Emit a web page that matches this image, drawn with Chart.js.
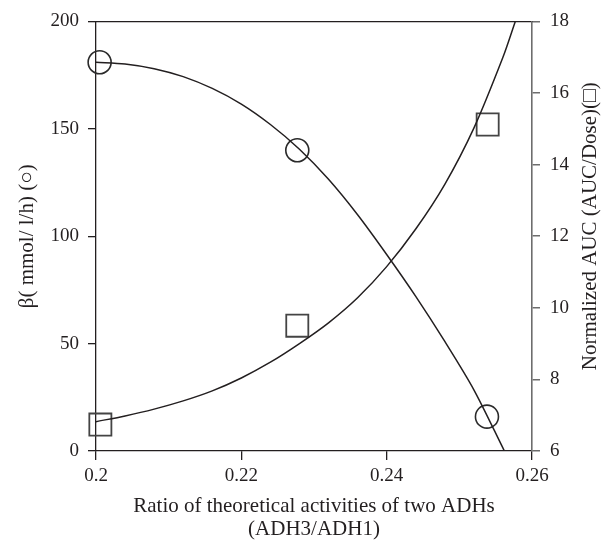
<!DOCTYPE html>
<html>
<head>
<meta charset="utf-8">
<script src="https://cdn.jsdelivr.net/npm/chart.js@4/dist/chart.umd.min.js"></script>
<style>
  html, body { margin: 0; padding: 0; background: #ffffff; }
  #wrap { width: 609px; height: 541px; position: relative; }
</style>
</head>
<body>
<div id="wrap"><canvas id="c" width="609" height="541"></canvas></div>
<script>
// ---- data ----
const xTickLabels = ['0.2', '0.22', '0.24', '0.26'];
const leftTickLabels = ['0', '50', '100', '150', '200'];
const rightTickLabels = ['6', '8', '10', '12', '14', '16', '18'];

// measured points (circles: beta, left axis; squares: normalized AUC, right axis)
const betaX = [0.2005, 0.2277, 0.2538];
const betaValues = [181, 140, 16];
const aucX = [0.2006, 0.2277, 0.2539];
const aucValues = [6.74, 9.5, 15.12];

// fitted curves
const betaFitX = [0.200, 0.204, 0.208, 0.212, 0.216, 0.220, 0.224, 0.228, 0.232, 0.236, 0.240, 0.244, 0.248, 0.252, 0.2562];
const betaFitY = [181, 180.2, 178, 174.3, 168.8, 161.5, 152, 140.5, 126.5, 110, 91.5, 72, 51, 28.5, 0];
const aucFitX = [0.200, 0.204, 0.208, 0.212, 0.216, 0.220, 0.224, 0.228, 0.232, 0.236, 0.240, 0.244, 0.248, 0.252, 0.256, 0.2577];
const aucFitY = [6.82, 6.98, 7.17, 7.40, 7.68, 8.04, 8.48, 9.00, 9.58, 10.28, 11.15, 12.2, 13.45, 15.02, 17.0, 18];

const xTitle = ['Ratio of theoretical activities of two ADHs', '(ADH3/ADH1)'];
const leftTitle = 'β( mmol/ l/h) (○)';
const rightTitle = 'Normalized AUC (AUC/Dose)(□)';

// ---- build ----
const toPts = (xs, ys) => xs.map((x, i) => ({ x: x, y: ys[i] }));
const ink = '#231f20';
const fontFam = '"Liberation Serif", "DejaVu Serif", serif';

// right-axis title reading bottom-to-top, like the reference
const rightTitlePlugin = {
  id: 'rightTitle',
  afterDraw(chart) {
    const c = chart.ctx;
    const a = chart.chartArea;
    c.save();
    c.translate(590, (a.top + a.bottom) / 2 - 10);
    c.rotate(-Math.PI / 2);
    c.font = '21px ' + fontFam;
    c.fillStyle = ink;
    c.textAlign = 'center';
    c.textBaseline = 'middle';
    c.fillText(rightTitle, 0, 0);
    c.restore();
  }
};

const ctx = document.getElementById('c').getContext('2d');
new Chart(ctx, {
  type: 'line',
  plugins: [rightTitlePlugin],
  data: {
    datasets: [
      {
        data: toPts(betaFitX, betaFitY), yAxisID: 'yL', xAxisID: 'x',
        borderColor: ink, borderWidth: 1.5, pointRadius: 0, fill: false, tension: 0.3
      },
      {
        data: toPts(aucFitX, aucFitY), yAxisID: 'yR', xAxisID: 'x',
        borderColor: ink, borderWidth: 1.5, pointRadius: 0, fill: false, tension: 0.3
      },
      {
        data: toPts(betaX, betaValues), yAxisID: 'yL', xAxisID: 'x',
        showLine: false, pointStyle: 'circle', pointRadius: 11.5,
        pointBorderColor: '#2a2a2a', pointBackgroundColor: 'rgba(0,0,0,0)',
        pointBorderWidth: 1.6, clip: false
      },
      {
        data: toPts(aucX, aucValues), yAxisID: 'yR', xAxisID: 'x',
        showLine: false, pointStyle: 'rect', pointRadius: 15.6,
        pointBorderColor: '#444444', pointBackgroundColor: 'rgba(0,0,0,0)',
        pointBorderWidth: 1.8, clip: false
      }
    ]
  },
  options: {
    responsive: false,
    animation: false,
    layout: { padding: 0 },
    plugins: { legend: { display: false }, tooltip: { enabled: false } },
    scales: {
      x: {
        type: 'linear', position: 'bottom', min: 0.2, max: 0.26,
        afterBuildTicks: (s) => { s.ticks = xTickLabels.map(v => ({ value: parseFloat(v) })); },
        ticks: {
          color: ink, font: { family: fontFam, size: 19 }, padding: 5,
          callback: (v, i) => xTickLabels[i]
        },
        grid: { display: true, drawOnChartArea: false, drawTicks: true, tickLength: 9, color: ink, lineWidth: 1.3 },
        border: { display: true, color: ink, width: 1.3 },
        title: { display: true, text: xTitle, color: ink, font: { family: fontFam, size: 21, lineHeight: 1.1 }, padding: { top: 0, bottom: 0 } },
        afterFit: (s) => { s.height = 90; }
      },
      xTop: {
        type: 'linear', position: 'top', min: 0.2, max: 0.26,
        ticks: { display: false },
        grid: { display: false, drawTicks: false },
        border: { display: true, color: ink, width: 1.3 },
        afterFit: (s) => { s.height = 15; }
      },
      yL: {
        type: 'linear', position: 'left', min: 0, max: 200,
        afterBuildTicks: (s) => { s.ticks = leftTickLabels.map(v => ({ value: parseFloat(v) })); },
        ticks: {
          color: ink, font: { family: fontFam, size: 19 }, padding: 9,
          callback: (v, i) => leftTickLabels[i]
        },
        grid: { display: true, drawOnChartArea: false, drawTicks: true, tickLength: 8, color: ink, lineWidth: 1.3 },
        border: { display: true, color: ink, width: 1.3 },
        title: { display: true, text: leftTitle, color: ink, font: { family: fontFam, size: 21, lineHeight: 1.2 }, padding: { top: 15, bottom: 0 } },
        afterFit: (s) => { s.width = 96; }
      },
      yR: {
        type: 'linear', position: 'right', min: 6, max: 18,
        afterBuildTicks: (s) => { s.ticks = rightTickLabels.map(v => ({ value: parseFloat(v) })); },
        ticks: {
          color: ink, font: { family: fontFam, size: 19 }, padding: 10,
          callback: (v, i) => rightTickLabels[i]
        },
        grid: { display: true, drawOnChartArea: false, drawTicks: true, tickLength: 8, color: '#6d6d6d', lineWidth: 1.5 },
        border: { display: true, color: '#6d6d6d', width: 1.6 },
        title: { display: false },
        afterFit: (s) => { s.width = 77; }
      }
    }
  }
});
</script>
</body>
</html>
